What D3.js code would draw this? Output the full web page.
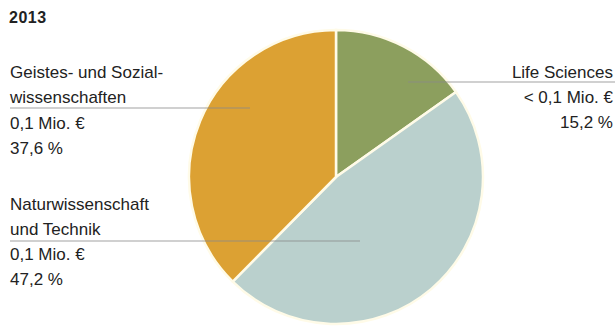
<!DOCTYPE html>
<html>
<head>
<meta charset="utf-8">
<script src="https://cdn.jsdelivr.net/npm/d3@7"></script>
<style>
  body { margin: 0; background: #fff; }
  text { font-family: "Liberation Sans", Arial, sans-serif; fill: #222; }
</style>
</head>
<body>
<div id="chart"></div>
<script>
// data, clockwise from 12 o'clock
const categories = ["Life Sciences", "Naturwissenschaft und Technik", "Geistes- und Sozialwissenschaften"];
const shares = [15.2, 47.2, 37.6];
const amounts = ["< 0,1 Mio. €", "0,1 Mio. €", "0,1 Mio. €"];
const shareLabels = ["15,2 %", "47,2 %", "37,6 %"];
const nameLines = [["Life Sciences"], ["Naturwissenschaft", "und Technik"], ["Geistes- und Sozial-", "wissenschaften"]];
const colors = ["#8c9f5e", "#bad0cd", "#dca133"];

const width = 615;
const height = 332;
const cx = 336;
const cy = 177;
const radius = 147;

const svg = (
    d3.select("#chart")
    .append("svg")
    .attr("width", width)
    .attr("height", height)
);

svg.append("text")
    .attr("x", 9)
    .attr("y", 23)
    .style("font-weight", "bold")
    .style("font-size", "16px")
    .style("letter-spacing", "0.5px")
    .text("2013");

const pie = d3.pie().sort(null).value((d) => d);
const arc = d3.arc().innerRadius(0).outerRadius(radius);
const arcs = pie(shares);

const g = svg.append("g").attr("transform", `translate(${cx}, ${cy})`);
(
    g.selectAll("path")
    .data(arcs)
    .join("path")
    .attr("d", arc)
    .attr("fill", (d, i) => colors[i])
    .attr("stroke", "#fffbe8")
    .attr("stroke-width", 2.5)
);

// leader line and label placement per category
const layout = [
    { x1: 408, x2: 615, y: 82, tx: 613, anchor: "end", base: 78 },
    { x1: 10, x2: 360, y: 241, tx: 10, anchor: "start", base: 210 },
    { x1: 10, x2: 250, y: 108, tx: 10, anchor: "start", base: 78 }
];
const lineGap = 25;

for (let i = 0; i < categories.length; ++i) {
    const l = layout[i];
    (
        svg.append("line")
        .attr("x1", l.x1)
        .attr("x2", l.x2)
        .attr("y1", l.y)
        .attr("y2", l.y)
        .attr("stroke", "#8a8a8a")
        .attr("stroke-opacity", 0.8)
        .attr("stroke-width", 1)
    );
    const lines = nameLines[i].concat([amounts[i], shareLabels[i]]);
    const nNames = nameLines[i].length;
    lines.forEach((s, j) => {
        // a bit more space below the leader line
        const extra = (j >= nNames && i === 2) ? 1 : 0;
        svg.append("text")
            .attr("x", l.tx)
            .attr("y", l.base + j * lineGap + extra)
            .attr("text-anchor", l.anchor)
            .style("font-size", "17px")
            .text(s);
    });
}
</script>
</body>
</html>
